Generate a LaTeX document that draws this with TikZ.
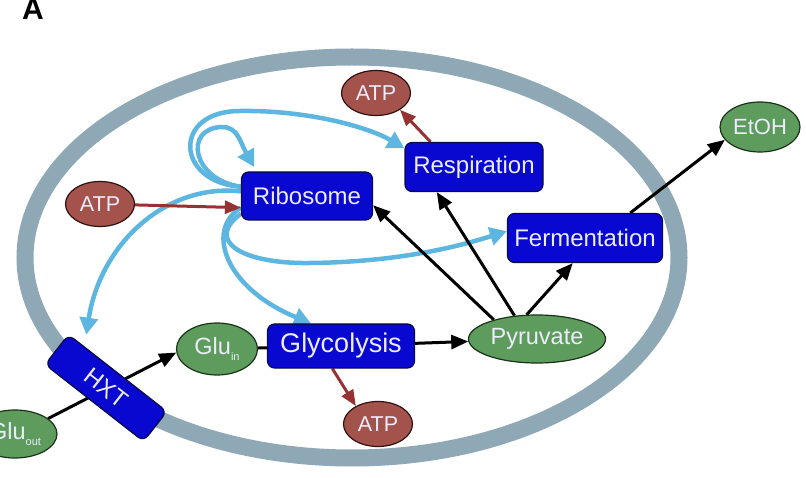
\documentclass[tikz,border=0pt]{standalone}
\usepackage{fontspec}
\setmainfont{Liberation Sans}
\usetikzlibrary{arrows.meta,shapes.geometric,calc,backgrounds}
\definecolor{boxblue}{RGB}{8,8,208}
\definecolor{boxedge}{RGB}{10,10,70}
\definecolor{nodegreen}{RGB}{94,156,94}
\definecolor{greenedge}{RGB}{25,50,25}
\definecolor{nodebrown}{RGB}{164,82,76}
\definecolor{brownedge}{RGB}{45,18,16}
\definecolor{membrane}{RGB}{143,168,182}
\definecolor{regblue}{RGB}{92,182,224}
\definecolor{brownarr}{RGB}{150,50,50}
\definecolor{txt}{RGB}{236,236,250}
\begin{document}
\begin{tikzpicture}[x=1pt,y=-1pt,
  proc/.style={draw=boxedge,line width=1.2pt,fill=boxblue,rounded corners=7pt,text=txt,
    font=\fontsize{24}{26}\selectfont,inner sep=0pt},
  gel/.style={ellipse,draw=greenedge,line width=1.2pt,fill=nodegreen,text=txt,inner sep=0pt,
    font=\fontsize{23.5}{26}\selectfont},
  bel/.style={ellipse,draw=brownedge,line width=1.2pt,fill=nodebrown,text=txt,inner sep=0pt,
    minimum width=69pt,minimum height=45pt,font=\fontsize{21.5}{24}\selectfont},
  blk/.style={line width=3pt,draw=black,-{Triangle[length=17pt,width=14pt]}},
  brn/.style={line width=3pt,draw=brownarr,-{Triangle[length=16pt,width=13pt]}},
  reg/.style={line width=4.5pt,draw=regblue,-{Triangle[length=17pt,width=18pt]}},
  memb/.style={draw=membrane,line width=17pt}
]
\clip (0,0) rectangle (806,478);
\useasboundingbox (0,0) rectangle (806,478);

% label
\node[font=\bfseries\fontsize{30}{30}\selectfont,anchor=base,inner sep=0pt] (lbl) at (33,20) {A};

% nodes
\node[bel] (atpr) at (376,93) {ATP};
\node[bel] (atpl) at (100,204) {ATP};
\node[bel] (atpg) at (378,424) {ATP};
\node[proc,minimum width=138pt,minimum height=49pt] (resp) at (474,167) {Respiration};
\node[proc,minimum width=131pt,minimum height=48pt] (rib) at (307,196) {Ribosome};
\node[proc,minimum width=155pt,minimum height=49pt] (ferm) at (585,238) {Fermentation};
\node[proc,minimum width=147pt,minimum height=44pt,font=\fontsize{27}{30}\selectfont] (gly) at (341,346) {Glycolysis};
\node[proc,rotate=-38,minimum width=125pt,minimum height=38pt,font=\fontsize{24}{26}\selectfont] (hxt) at (106,388) {HXT};
\node[gel,minimum width=80pt,minimum height=50pt,font=\fontsize{22}{24}\selectfont] (etoh) at (760,127) {EtOH};
\node[gel,minimum width=137pt,minimum height=48pt] (pyr) at (537,339) {Pyruvate};
\node[gel,minimum width=81pt,minimum height=52pt] (gluin) at (217,349) {Glu\raisebox{-6pt}{\fontsize{11}{12}\selectfont in}};
\node[gel,minimum width=84pt,minimum height=48pt] (gluout) at (15,434) {Glu\raisebox{-6pt}{\fontsize{11}{12}\selectfont out}};

\coordinate (hxttip) at ($(hxt.north west)!0.18!(hxt.north east)+(0,-13)$);

\begin{scope}[on background layer]
  % cell membrane
  \draw[memb] (352,257.5) ellipse [x radius=327pt, y radius=200.5pt];
  % regulatory arrows from ribosome
  \draw[reg,shorten >=5pt] (rib.172) .. controls (192,180) and (183,128) .. (222,127)
             .. controls (238,127) and (240,142) .. (rib.154);
  \draw[reg] (rib.172) .. controls (175,182) and (172,111) .. (240,111)
             .. controls (310,110) and (370,128) .. (resp.165);
  \draw[reg] (rib.176) .. controls (165,183) and (100,245) .. (hxttip);
  \draw[reg] (rib.190) .. controls (205,230) and (225,288) .. (gly.143);
  \draw[reg] (rib.195) .. controls (205,240) and (240,264) .. (310,263)
             .. controls (400,262) and (460,246) .. (ferm.175);
  % metabolic flux
  \draw[line width=3pt] (gluin) -- (gly);
  \draw[blk] (gluout.25) -- (gluin.185);
  \draw[blk] (gly) -- (pyr);
  \draw[blk] (pyr.156) -- (rib.-8);
  \draw[blk] (pyr.134) -- (resp.214);
  \draw[blk] (pyr.113) -- (ferm.244);
  \draw[blk] (ferm.29) -- (etoh.200);
  % ATP
  \draw[brn] (atpl) -- (rib.190);
  \draw[brn] (resp.150) -- (atpr.-35);
  \draw[brn] (gly.249) -- (atpg.141);
\end{scope}
\end{tikzpicture}
\end{document}
